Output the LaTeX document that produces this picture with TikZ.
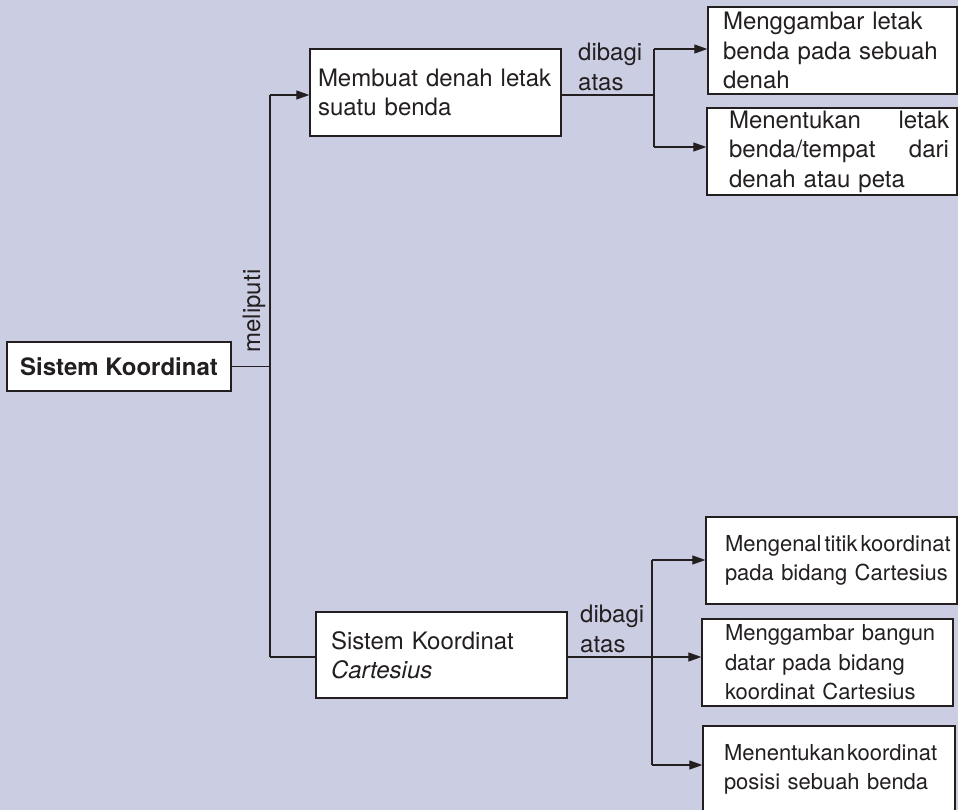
\documentclass[tikz,border=0pt]{standalone}
\usepackage{fontspec}
\setmainfont{TeX Gyre Heros}
\usetikzlibrary{arrows.meta}
\definecolor{bgc}{RGB}{203,205,227}
\definecolor{ink}{RGB}{35,31,32}
\begin{document}
\begin{tikzpicture}[x=1pt,y=-1pt,
  every node/.style={text=ink},
  box/.style={draw=ink, line width=1.3pt, fill=white, align=left,
    minimum height=87pt, inner ysep=0pt,
    font=\fontsize{24}{29.5}\selectfont},
  smallbox/.style={box, font=\fontsize{22}{29.5}\selectfont},
  lbl/.style={align=left, inner sep=0pt, font=\fontsize{24}{29.5}\selectfont},
  conn/.style={draw=ink, line width=1.1pt},
  arr/.style={conn, -{Triangle[length=13pt,width=9pt]}}]
\clip (0,0) rectangle (958,810);
\fill[bgc] (0,0) rectangle (958,810);

% boxes
\node[box, align=center, minimum width=224pt, minimum height=49pt, inner sep=0pt,
  font=\fontsize{24}{29.5}\selectfont\bfseries] (sk) at (119,366.5) {Sistem Koordinat};
\node[box, inner xsep=8pt, text width=235pt] (md) at (435.5,92.5)
  {\mbox{Membuat denah letak}\\\mbox{suatu benda}};
\node[box, inner xsep=15pt, text width=219pt] (r1) at (832.5,50.5)
  {\mbox{Menggambar letak}\\\mbox{benda pada sebuah}\\\mbox{denah}};
\node[box, inner xsep=11pt, text width=228pt] (r2) at (832,151.5)
  {\hspace*{11pt}\makebox[220pt][s]{Menentukan\hfill letak}\\
   \hspace*{11pt}\makebox[220pt][s]{benda/tempat\hfill dari}\\
   \hspace*{11pt}\mbox{denah atau peta}};
\node[box, minimum height=86pt, inner xsep=15pt, text width=221pt] (skc) at (441.5,655)
  {\mbox{Sistem Koordinat}\\\mbox{\itshape Cartesius}};
\node[smallbox, inner xsep=19pt, text width=213pt] (b1) at (831.5,560.5)
  {\mbox{Mengenal\hspace{3pt}titik\hspace{3pt}koordinat}\\\mbox{pada bidang Cartesius}};
\node[smallbox, inner xsep=23pt, text width=205pt] (b2) at (827.5,662.5)
  {\mbox{Menggambar bangun}\\\mbox{datar pada bidang}\\\mbox{koordinat Cartesius}};
\node[smallbox, inner xsep=21pt, text width=210pt] (b3) at (829,769.5)
  {\mbox{Menentukan\hspace{2pt}koordinat}\\\mbox{posisi sebuah benda}};

% labels
\node[lbl, rotate=90] (mel) at (254,311) {meliputi};
\node[lbl, anchor=north west] (d1) at (578,43) {dibagi\\atas};
\node[lbl, anchor=north west] (d2) at (580,605) {dibagi\\atas};

% junction points
\coordinate (jt) at (270,95);
\coordinate (jb) at (270,657);
\coordinate (ta) at (654,49);
\coordinate (tm) at (654,95);
\coordinate (tb) at (654,147);
\coordinate (ba) at (652,560);
\coordinate (bm) at (652,657);
\coordinate (bc) at (652,765);

% connectors
\draw[conn] (sk.east) -- (sk.east -| jt);
\draw[conn] (jt) -- (jb);
\draw[arr] (jt) -- (jt -| md.west);
\draw[conn] (jb) -- (jb -| skc.west);

\draw[conn] (tm -| md.east) -- (tm);
\draw[conn] (ta) -- (tb);
\draw[arr] (ta) -- (ta -| r1.west);
\draw[arr] (tb) -- (tb -| r2.west);

\draw[conn] (bm -| skc.east) -- (bm);
\draw[conn] (ba) -- (bc);
\draw[arr] (ba) -- (ba -| b1.west);
\draw[arr] (bm) -- (bm -| b2.west);
\draw[arr] (bc) -- (bc -| b3.west);
\end{tikzpicture}
\end{document}
